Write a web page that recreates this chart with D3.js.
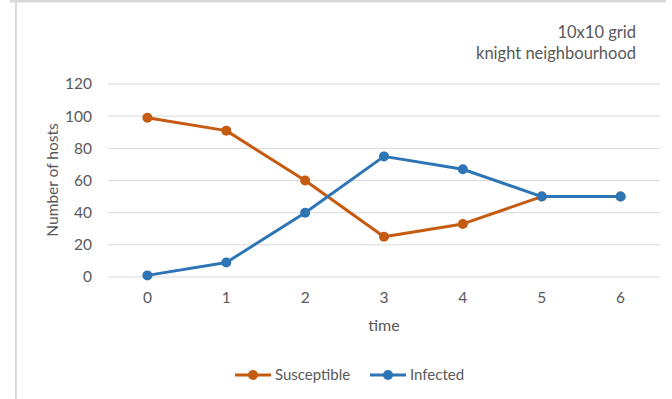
<!DOCTYPE html>
<html>
<head>
<meta charset="utf-8">
<script src="https://cdn.jsdelivr.net/npm/d3@7"></script>
<style>
  html, body { margin: 0; padding: 0; background: #fff; }
  svg { display: block; font-family: Lato, "Open Sans", sans-serif; }
</style>
</head>
<body>
<svg id="chart" width="672" height="399"></svg>
<script>
// Time steps of the epidemic on a 10x10 grid with knight neighbourhood
const timeSteps = ["0", "1", "2", "3", "4", "5", "6"];
const susceptible = [99, 91, 60, 25, 33, 50, 50];
const infected = [1, 9, 40, 75, 67, 50, 50];
const yTicks = [0, 20, 40, 60, 80, 100, 120];
const seriesNames = ["Susceptible", "Infected"];
const seriesColors = ["#C55A11", "#2E75B6"];
const titleLines = ["10x10 grid", "knight neighbourhood"];

const svg = d3.select("#chart");
const textColor = "#595959";

// Outer frame edges
svg.append("rect").attr("x", 10).attr("y", 0).attr("width", 656).attr("height", 2.5).attr("fill", "#d9d9d9");
svg.append("rect").attr("x", 15).attr("y", 0).attr("width", 1.8).attr("height", 399).attr("fill", "#d9d9d9");

const plot = { left: 108, right: 660, top: 84, bottom: 277 };

const x = d3.scaleBand().domain(timeSteps).range([plot.left, plot.right]);
const y = d3.scaleLinear().domain([0, 120]).range([plot.bottom, plot.top]);
const cx = d => x(d) + x.bandwidth() / 2;

// Horizontal gridlines
svg.append("g")
  .selectAll("line")
  .data(yTicks)
  .join("line")
  .attr("x1", plot.left).attr("x2", plot.right)
  .attr("y1", d => y(d)).attr("y2", d => y(d))
  .attr("stroke", "#d9d9d9").attr("stroke-width", 1);

// Y axis labels
const yAxis = svg.append("g")
  .attr("transform", `translate(${plot.left - 16},0)`)
  .call(d3.axisLeft(y).tickValues(yTicks).tickSize(0).tickPadding(0));
yAxis.select(".domain").remove();
yAxis.selectAll("text").attr("fill", textColor).style("font-size", "15.5px").style("font-family", "Lato, sans-serif");

// X axis labels
const xAxis = svg.append("g")
  .attr("transform", `translate(0,${plot.bottom + 15})`)
  .call(d3.axisBottom(x).tickSize(0).tickPadding(0));
xAxis.select(".domain").remove();
xAxis.selectAll("text").attr("fill", textColor).style("font-size", "15.5px").style("font-family", "Lato, sans-serif");

// Axis titles
svg.append("text")
  .attr("x", (plot.left + plot.right) / 2)
  .attr("y", 331)
  .attr("text-anchor", "middle")
  .attr("fill", textColor)
  .style("font-size", "16px")
  .text("time");

svg.append("text")
  .attr("transform", "translate(58,180) rotate(-90)")
  .attr("text-anchor", "middle")
  .attr("fill", textColor)
  .style("font-size", "15.5px")
  .text("Number of hosts");

// Annotation in the top-right corner
svg.append("g")
  .selectAll("text")
  .data(titleLines)
  .join("text")
  .attr("x", 636)
  .attr("y", (d, i) => 38 + i * 21)
  .attr("text-anchor", "end")
  .attr("fill", textColor)
  .style("font-size", "16.5px")
  .text(d => d);

// Series lines and markers
const seriesData = [susceptible, infected];
const line = d3.line().x((d, i) => cx(timeSteps[i])).y(d => y(d));

seriesData.forEach((vals, s) => {
  const g = svg.append("g");
  g.append("path")
    .datum(vals)
    .attr("d", line)
    .attr("fill", "none")
    .attr("stroke", seriesColors[s])
    .attr("stroke-width", 3)
    .attr("stroke-linejoin", "round");
  g.selectAll("circle")
    .data(vals)
    .join("circle")
    .attr("cx", (d, i) => cx(timeSteps[i]))
    .attr("cy", d => y(d))
    .attr("r", 5)
    .attr("fill", seriesColors[s]);
});

// Legend
const legendItems = [
  { name: seriesNames[0], color: seriesColors[0], x: 235 },
  { name: seriesNames[1], color: seriesColors[1], x: 370 }
];
const legend = svg.append("g").attr("transform", "translate(0,375)");
legendItems.forEach(item => {
  const g = legend.append("g").attr("transform", `translate(${item.x},0)`);
  g.append("line").attr("x1", 0).attr("x2", 36).attr("y1", 0).attr("y2", 0)
    .attr("stroke", item.color).attr("stroke-width", 3);
  g.append("circle").attr("cx", 18).attr("cy", 0).attr("r", 5).attr("fill", item.color);
  g.append("text").attr("x", 40).attr("y", 0).attr("dy", "0.35em")
    .attr("fill", textColor).style("font-size", "15px").text(item.name);
});
</script>
</body>
</html>
